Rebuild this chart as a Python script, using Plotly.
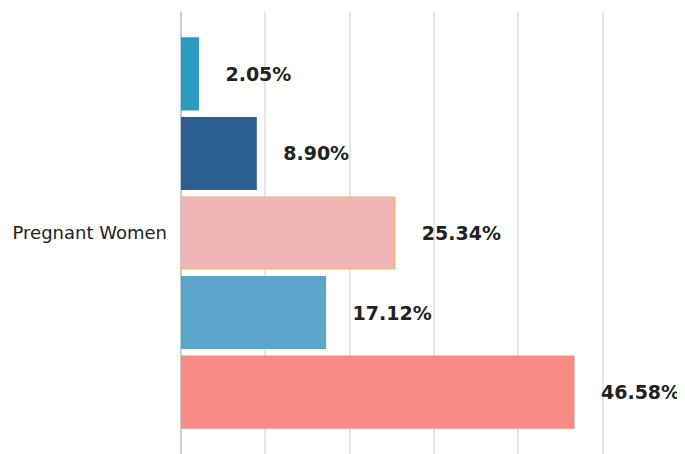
import plotly.graph_objects as go

# one category, five groups (bottom to top in the drawing order of plotly)
category = ["Pregnant Women"]
values = [46.58, 17.12, 25.34, 8.90, 2.05]
colors = ["#f78a82", "#5aa5c9", "#f2b5b6", "#2a6090", "#2a9cc0"]
edges = ["#f78a82", "#5aa5c9", "#f1b57a", "#2a6090", "#2a9cc0"]

fig = go.Figure()
for v, c, e in zip(values, colors, edges):
    fig.add_trace(go.Bar(
        y=category, x=[v], orientation="h",
        marker=dict(color=c, line=dict(color=e, width=1.5)),
        text=["\u00a0\u00a0\u00a0\u00a0" + f"<b>{v:.2f}%</b>"],
        textposition="outside",
        textfont=dict(family="DejaVu Sans", size=19, color="#222222"),
        cliponaxis=False,
        showlegend=False,
    ))

# the page body has an 8px margin, so the figure is placed 8px right and down
fig.update_layout(
    width=685, height=454,
    margin=dict(l=173, r=6, t=4, b=8),
    barmode="group", bargap=0.1, bargroupgap=0.1,
    paper_bgcolor="white", plot_bgcolor="white",
)
fig.update_xaxes(range=[0, 60], dtick=10, showticklabels=False,
                 showgrid=True, gridcolor="#e6e6e6", gridwidth=1.5,
                 zeroline=True, zerolinecolor="#cccccc", zerolinewidth=1.5)
fig.update_yaxes(showgrid=False, ticks="", ticklabelstandoff=13,
                 tickfont=dict(family="DejaVu Sans", size=18, color="#222222"))

fig.write_html("out.html")
